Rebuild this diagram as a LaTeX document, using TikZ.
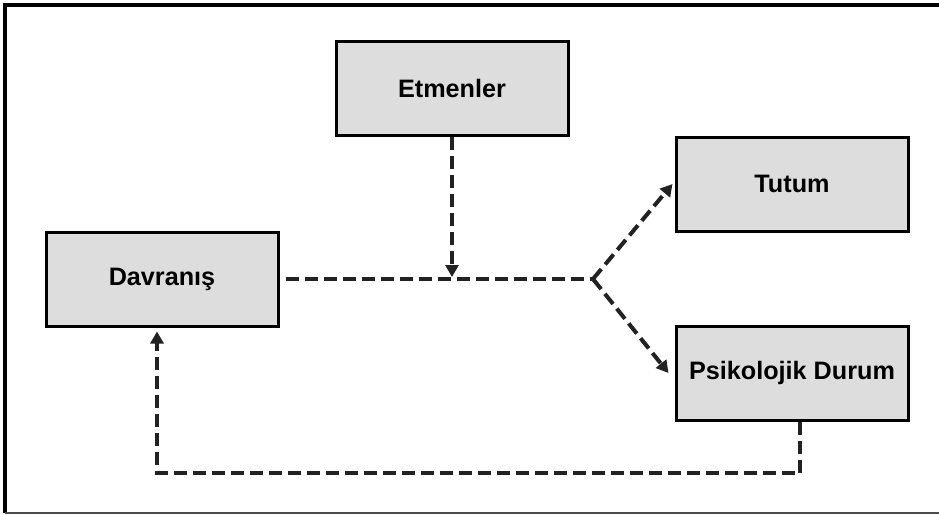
\documentclass[tikz,border=0pt]{standalone}
\usepackage{fontspec}
\setmainfont{Liberation Sans}
\usepackage{xcolor}
\usepackage{tikz}
\usetikzlibrary{arrows.meta, positioning, calc}
\definecolor{boxgray}{HTML}{DDDDDD}
\definecolor{linegray}{HTML}{222222}

\begin{document}
\begin{tikzpicture}[x=0.5pt, y=-0.5pt,
    stagebox/.style={draw=black, fill=boxgray, line width=1.5pt,
      minimum width=116pt, minimum height=47pt, inner sep=0pt,
      font=\fontsize{12.6}{15}\selectfont\bfseries},
    flow/.style={draw=linegray, line width=2pt, dash pattern=on 6.5pt off 3pt},
    flowarrow/.style={flow, -{Triangle[length=6pt,width=6.5pt]}}]

  \useasboundingbox (0,0) rectangle (939,515);

  %% Frame
  \draw[line width=2pt] (940,5) -- (5,5) -- (5,513);
  \draw[line width=0.8pt, black!70] (5,513) -- (940,513);

  %% Boxes
  \node[stagebox] (etmenler) at (452,88) {Etmenler};
  \node[stagebox] (tutum) at (792,184) {Tutum};
  \node[stagebox] (davranis) at (162,279) {Davranış};
  \node[stagebox] (psikolojik) at (792,373) {Psikolojik Durum};

  %% Branch points
  \coordinate (split) at (593,279);
  \coordinate (join) at (etmenler.south |- split);
  \coordinate (loopright) at (800,473);
  \coordinate (loopleft) at (157,473);

  %% Connectors
  \draw[flow] ([xshift=3pt]davranis.east) -- (split);
  \draw[flowarrow] (etmenler.south) -- ([yshift=1pt]join);
  \draw[flowarrow] (split) -- ([xshift=-1pt]tutum.west);
  \draw[flowarrow] (split) -- ([xshift=-3pt]psikolojik.west);
  \draw[flowarrow] (loopright |- psikolojik.south) -- (loopright)
    -- (loopleft) -- ([yshift=-2pt]loopleft |- davranis.south);

\end{tikzpicture}
\end{document}
